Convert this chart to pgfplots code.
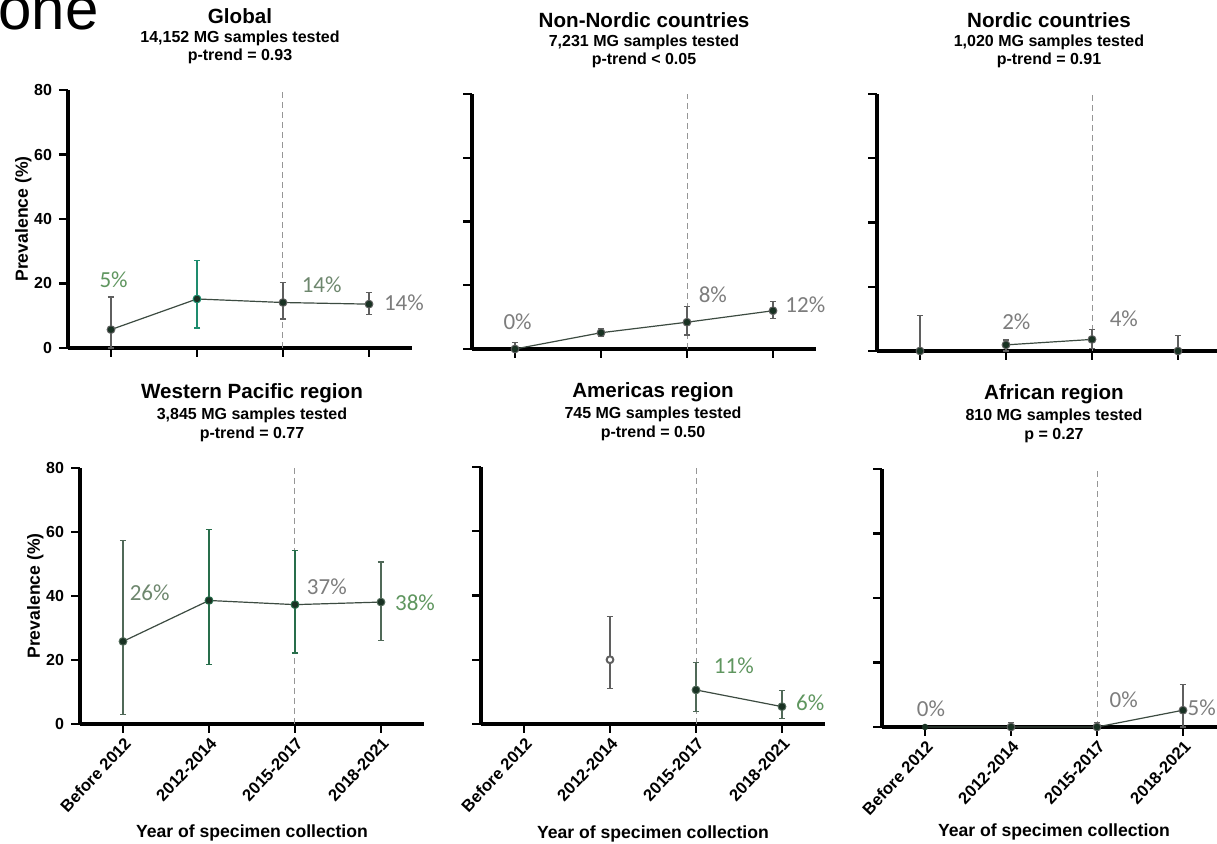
\documentclass[border=0pt]{standalone}
\usepackage{fontspec}
\setmainfont{Liberation Sans}
\newfontfamily\lblfont{Carlito}
\usepackage{pgfplots}
\pgfplotsset{compat=1.18}

\definecolor{linecol}{RGB}{60,75,65}
\definecolor{markcol}{RGB}{25,50,35}
\definecolor{errgray}{RGB}{95,95,95}
\definecolor{errgreen}{RGB}{40,110,75}
\definecolor{errgg}{RGB}{80,105,88}
\definecolor{errteal}{RGB}{30,140,110}
\definecolor{lblgreen}{RGB}{95,150,95}
\definecolor{lblgray}{RGB}{125,125,125}
\definecolor{lblmix}{RGB}{110,135,110}
\definecolor{dashgray}{RGB}{150,150,150}

\pgfplotsset{
  panel/.style={
    scale only axis, width=172pt, xmin=-0.5, xmax=3.5, ymin=0, ymax=80,
    axis lines*=left, axis line style={line width=1.6pt,-},
    xtick={0,1,2,3}, ytick={0,20,40,60,80}, tick align=outside,
    major tick length=4.5pt, major tick style={line width=1.1pt, black},
    clip=false, anchor=south west,
    /pgf/number format/assume math mode=true,
    yticklabel style={font=\bfseries\fontsize{8}{9}\selectfont},
    xticklabel style={font=\bfseries\fontsize{8.3}{9}\selectfont, rotate=47, anchor=north east, inner sep=1pt},
    xticklabels={Before 2012,2012-2014,2015-2017,2018-2021},
  },
  toprow/.style={xticklabels={}},
  noy/.style={yticklabels={}},
  errs/.style={only marks, mark=none, error bars/.cd, y dir=both, y explicit,
    error bar style={line width=0.6pt}, error mark=-, error mark options={rotate=90, line width=0.6pt, mark size=1.6pt}},
  ln/.style={color=linecol, line width=0.6pt, mark=*, mark size=1.3pt, mark options={fill=markcol, draw=markcol}},
}
\newcommand\lbl{\lblfont\fontsize{11.5}{12}\selectfont}
\newcommand\ttl{\bfseries\fontsize{10.3}{11}\selectfont}
\newcommand\sub{\bfseries\fontsize{8}{9}\selectfont}
\newcommand\axl{\bfseries\fontsize{8.8}{10}\selectfont}

\begin{document}
\begin{tikzpicture}
\useasboundingbox (0,0) rectangle (608.5pt,422pt);
\clip (0,0) rectangle (608.5pt,422pt);
\fill[white] (0,0) rectangle (608.5pt,422pt);
\node[anchor=base west, inner sep=0, font=\fontsize{30}{30}\selectfont] at (-1pt,407pt) {one};

% ---------- Global
\begin{axis}[panel, toprow, height=129pt, at={(34pt,248pt)}]
\draw[dashgray, dash pattern=on 3pt off 2pt, line width=0.5pt] (axis cs:2,0) -- (axis cs:2,80);
\addplot[errgray, errs] coordinates {(0,5.7) += (0,10.1) -= (0,5.7) (2,14.1) += (0,6.1) -= (0,5.1) (3,13.6) += (0,3.6) -= (0,3.3)};
\addplot[errteal, errs] coordinates {(1,15.2) += (0,12.0) -= (0,9.0)};
\addplot[ln] coordinates {(0,5.7) (1,15.2) (2,14.1) (3,13.6)};
\node[font=\lbl, text=lblgreen, inner sep=0] at (axis cs:0.03,21.2) {5\%};
\node[font=\lbl, text=lblmix, inner sep=0] at (axis cs:2.45,19.6) {14\%};
\node[font=\lbl, text=lblgray, inner sep=0, anchor=west] at (axis cs:3.17,14) {14\%};
\node[font=\ttl, anchor=base] at (axis cs:1.5,80) [yshift=33pt] {Global};
\node[font=\sub, anchor=base] at (axis cs:1.5,80) [yshift=23.5pt] {14,152 MG samples tested};
\node[font=\sub, anchor=base] at (axis cs:1.5,80) [yshift=14.75pt] {p-trend = 0.93};
\node[font=\axl, rotate=90] at (axis cs:-1.02,40) {Prevalence (\%)};
\end{axis}

% ---------- Non-Nordic
\begin{axis}[panel, toprow, noy, height=127.5pt, at={(236pt,247.5pt)}]
\draw[dashgray, dash pattern=on 3pt off 2pt, line width=0.5pt] (axis cs:2,0) -- (axis cs:2,80);
\addplot[errgray, errs] coordinates {(0,0) += (0,2) -= (0,0) (1,5.1) += (0,1.4) -= (0,1.2) (2,8.4) += (0,4.9) -= (0,4.0) (3,12) += (0,2.8) -= (0,2.4)};
\addplot[ln] coordinates {(0,0) (1,5.1) (2,8.4) (3,12)};
\node[font=\lbl, text=lblgray, inner sep=0] at (axis cs:0.03,8.5) {0\%};
\node[font=\lbl, text=lblgray, inner sep=0] at (axis cs:2.3,17) {8\%};
\node[font=\lbl, text=lblgray, inner sep=0, anchor=west] at (axis cs:3.14,13.8) {12\%};
\node[font=\ttl, anchor=base] at (axis cs:1.5,80) [yshift=33.5pt] {Non-Nordic countries};
\node[font=\sub, anchor=base] at (axis cs:1.5,80) [yshift=24pt] {7,231 MG samples tested};
\node[font=\sub, anchor=base] at (axis cs:1.5,80) [yshift=15pt] {p-trend < 0.05};
\end{axis}

% ---------- Nordic
\begin{axis}[panel, toprow, noy, height=128.5pt, at={(438.5pt,246.5pt)}]
\draw[dashgray, dash pattern=on 3pt off 2pt, line width=0.5pt] (axis cs:2,0) -- (axis cs:2,80);
\addplot[errgray, errs] coordinates {(0,0) += (0,11) -= (0,0) (1,1.9) += (0,1.5) -= (0,1.9) (2,3.6) += (0,3.2) -= (0,2.8) (3,0) += (0,4.7) -= (0,0)};
\addplot[ln] coordinates {(1,1.9) (2,3.6)};
\addplot[ln, only marks] coordinates {(0,0) (3,0)};
\node[font=\lbl, text=lblgray, inner sep=0] at (axis cs:1.12,9.1) {2\%};
\node[font=\lbl, text=lblgray, inner sep=0] at (axis cs:2.37,10) {4\%};
\node[font=\ttl, anchor=base] at (axis cs:1.5,80) [yshift=33.5pt] {Nordic countries};
\node[font=\sub, anchor=base] at (axis cs:1.5,80) [yshift=24pt] {1,020 MG samples tested};
\node[font=\sub, anchor=base] at (axis cs:1.5,80) [yshift=15pt] {p-trend = 0.91};
\end{axis}

% ---------- Western Pacific
\begin{axis}[panel, height=128pt, at={(40pt,60pt)}]
\draw[dashgray, dash pattern=on 3pt off 2pt, line width=0.5pt] (axis cs:2,0) -- (axis cs:2,80);
\addplot[errgg, errs] coordinates {(0,25.8) += (0,31.6) -= (0,22.9) (3,38.1) += (0,12.5) -= (0,12.0)};
\addplot[errgreen, errs] coordinates {(1,38.6) += (0,22.1) -= (0,19.9) (2,37.3) += (0,17.0) -= (0,15.1)};
\addplot[ln] coordinates {(0,25.8) (1,38.6) (2,37.3) (3,38.1)};
\node[font=\lbl, text=lblmix, inner sep=0] at (axis cs:0.31,41) {26\%};
\node[font=\lbl, text=lblgray, inner sep=0] at (axis cs:2.37,42.8) {37\%};
\node[font=\lbl, text=lblgreen, inner sep=0, anchor=west] at (axis cs:3.16,37.8) {38\%};
\node[font=\ttl, anchor=base] at (axis cs:1.5,80) [yshift=35pt] {Western Pacific region};
\node[font=\sub, anchor=base] at (axis cs:1.5,80) [yshift=24.5pt] {3,845 MG samples tested};
\node[font=\sub, anchor=base] at (axis cs:1.5,80) [yshift=15pt] {p-trend = 0.77};
\node[font=\axl, rotate=90] at (axis cs:-1.02,40) {Prevalence (\%)};
\node[font=\axl] at (axis cs:1.5,-34.2) {Year of specimen collection};
\end{axis}

% ---------- Americas
\begin{axis}[panel, noy, height=128.5pt, at={(240.5pt,60pt)}]
\draw[dashgray, dash pattern=on 3pt off 2pt, line width=0.5pt] (axis cs:2,0) -- (axis cs:2,80);
\addplot[errgray, errs] coordinates {(1,20) += (0,13.4) -= (0,8.9)};
\addplot[errgg, errs] coordinates {(2,10.6) += (0,8.5) -= (0,6.8) (3,5.4) += (0,5.0) -= (0,3.6)};
\addplot[only marks, mark=*, mark size=1.5pt, mark options={fill=white, draw=errgray, line width=0.6pt}] coordinates {(1,20)};
\addplot[ln] coordinates {(2,10.6) (3,5.4)};
\node[font=\lbl, text=lblgreen, inner sep=0] at (axis cs:2.44,18) {11\%};
\node[font=\lbl, text=lblgreen, inner sep=0, anchor=west] at (axis cs:3.16,6.5) {6\%};
\node[font=\ttl, anchor=base] at (axis cs:1.5,80) [yshift=35pt] {Americas region};
\node[font=\sub, anchor=base] at (axis cs:1.5,80) [yshift=24.5pt] {745 MG samples tested};
\node[font=\sub, anchor=base] at (axis cs:1.5,80) [yshift=15pt] {p-trend = 0.50};
\node[font=\axl] at (axis cs:1.5,-34.2) {Year of specimen collection};
\end{axis}

% ---------- African
\begin{axis}[panel, noy, height=129pt, at={(441pt,58.5pt)}]
\draw[dashgray, dash pattern=on 3pt off 2pt, line width=0.5pt] (axis cs:2,0) -- (axis cs:2,80);
\addplot[errgray, errs] coordinates {(1,0) += (0,1.5) -= (0,0) (2,0) += (0,1.5) -= (0,0) (3,5.2) += (0,8) -= (0,5.2)};
\addplot[ln] coordinates {(0,0) (1,0) (2,0) (3,5.2)};
\node[font=\lbl, text=lblgray, inner sep=0] at (axis cs:0.07,5.8) {0\%};
\node[font=\lbl, text=lblgray, inner sep=0] at (axis cs:2.31,8.3) {0\%};
\node[font=\lbl, text=lblgray, inner sep=0, anchor=west] at (axis cs:3.05,6) {5\%};
\node[font=\ttl, anchor=base] at (axis cs:1.5,80) [yshift=35pt] {African region};
\node[font=\sub, anchor=base] at (axis cs:1.5,80) [yshift=24.5pt] {810 MG samples tested};
\node[font=\sub, anchor=base] at (axis cs:1.5,80) [yshift=15pt] {p = 0.27};
\node[font=\axl] at (axis cs:1.5,-32.5) {Year of specimen collection};
\end{axis}
\end{tikzpicture}
\end{document}
